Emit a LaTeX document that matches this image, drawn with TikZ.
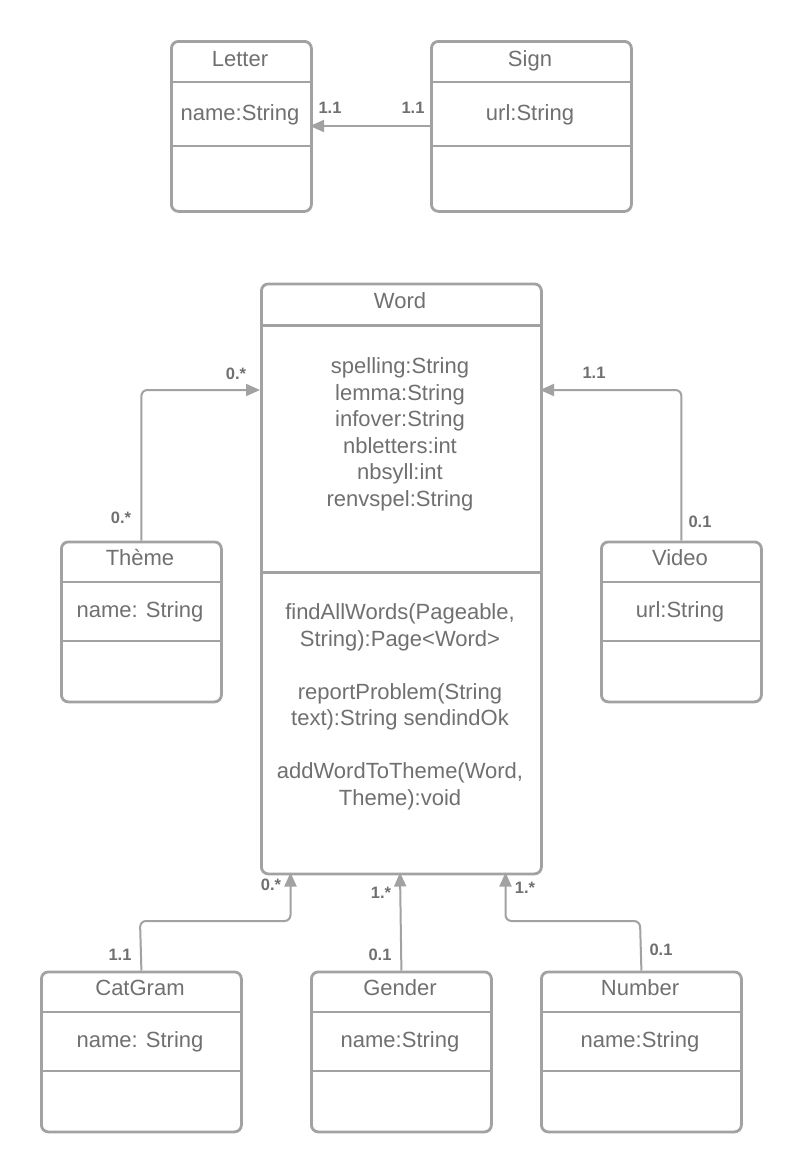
\documentclass[tikz,border=0pt]{standalone}
\usepackage{fontspec}
\setmainfont{Liberation Sans}
\usetikzlibrary{arrows.meta}

\definecolor{lineg}{HTML}{A2A2A2}
\definecolor{textg}{HTML}{707070}

\tikzset{
  classbox/.style={draw=lineg, line width=2.8pt, rounded corners=7pt,
    anchor=north west, inner sep=0pt, fill=white},
  divider/.style={draw=lineg, line width=2.8pt},
  txt/.style={text=textg, font=\fontsize{22}{26.5}\selectfont, anchor=base,
    inner sep=0pt, align=center},
  mult/.style={text=textg, font=\bfseries\fontsize{16.5}{18}\selectfont, anchor=base,
    inner sep=0pt},
  assoc/.style={draw=lineg, line width=2pt, rounded corners=6pt,
    -{Triangle[length=14pt,width=12pt]}},
}

\begin{document}
\begin{tikzpicture}[x=1pt,y=-1pt]
\useasboundingbox (0,0) rectangle (800,1170);
\fill[white] (0,0) rectangle (800,1170);

% ---- class boxes ----
\node[classbox, minimum width=140pt, minimum height=170pt] (letter) at (170,40) {};
\node[classbox, minimum width=200pt, minimum height=170pt] (sign)   at (430,40) {};
\node[classbox, minimum width=280pt, minimum height=590pt] (word)   at (260,282.5) {};
\node[classbox, minimum width=160pt, minimum height=160pt] (theme)  at (60,540.5) {};
\node[classbox, minimum width=160pt, minimum height=160pt] (video)  at (600,540.5) {};
\node[classbox, minimum width=200pt, minimum height=160pt] (catgram) at (40,970.5) {};
\node[classbox, minimum width=180pt, minimum height=160pt] (gender)  at (310,970.5) {};
\node[classbox, minimum width=200pt, minimum height=160pt] (number)  at (540,970.5) {};

% ---- compartment dividers ----
\foreach \b/\ya/\yb in {letter/82/146, sign/82/146, theme/582/641, video/582/641,
                        catgram/1012/1071, gender/1012/1071, number/1012/1071}{
  \draw[divider] (\b.west |- 0,\ya) -- (\b.east |- 0,\ya);
  \draw[divider] (\b.west |- 0,\yb) -- (\b.east |- 0,\yb);
}
\draw[divider] (word.west |- 0,325.5) -- (word.east |- 0,325.5);
\draw[divider] (word.west |- 0,572.5) -- (word.east |- 0,572.5);

% ---- texts (multi-line nodes sit on the baseline of their last line) ----
\node[txt] (tLetter) at (240,66) {Letter};
\node[txt] (aLetter) at (240,120) {name:String};
\node[txt] (tSign) at (530,66) {Sign};
\node[txt] (aSign) at (530,120) {url:String};

\node[txt] (tWord) at (400,308) {Word};
\node[txt] (aWord) at (400,506) {spelling:String\\lemma:String\\infover:String\\nbletters:int\\nbsyll:int\\renvspel:String};
\node[txt] (mWord) at (400,805) {findAllWords(Pageable,\\String):Page<Word>\\[26.5pt]reportProblem(String\\text):String sendindOk\\[26.5pt]addWordToTheme(Word,\\Theme):void};

\node[txt] (tTheme) at (140,565) {Thème};
\node[txt] (aTheme) at (140,617) {name: String};
\node[txt] (tVideo) at (680,565) {Video};
\node[txt] (aVideo) at (680,617) {url:String};

\node[txt] (tCat) at (140,995) {CatGram};
\node[txt] (aCat) at (140,1047) {name: String};
\node[txt] (tGender) at (400,995) {Gender};
\node[txt] (aGender) at (400,1047) {name:String};
\node[txt] (tNumber) at (640,995) {Number};
\node[txt] (aNumber) at (640,1047) {name:String};

% ---- connector end points on the Word box ----
\coordinate (wThemeIn) at (260,390);
\coordinate (wVideoIn) at (540,390);
\coordinate (wCatIn) at (290.5,872.5);
\coordinate (wGenderIn) at (400,872.5);
\coordinate (wNumberIn) at (505.5,872.5);
\coordinate (signOut) at (430,126);
\coordinate (letterIn) at (310,126);

% ---- associations ----
\draw[assoc] (signOut) -- (letterIn);
\draw[assoc] (theme.north) |- (wThemeIn);
\draw[assoc] (video.north) |- (wVideoIn);
\draw[assoc] (catgram.north) -- (140,921) -| (wCatIn);
\draw[assoc] (gender.north) -- (wGenderIn);
\draw[assoc] (number.north) -- (640,921) -| (wNumberIn);

% ---- multiplicities ----
\node[mult] (mLetter) at (330,113) {1.1};
\node[mult] (mSign) at (413,113) {1.1};
\node[mult] (mWordTheme) at (236,379) {0.*};
\node[mult] (mTheme) at (121,523) {0.*};
\node[mult] (mWordVideo) at (594,378) {1.1};
\node[mult] (mVideo) at (700,527) {0.1};
\node[mult] (mWordCat) at (271,890) {0.*};
\node[mult] (mCat) at (120,960) {1.1};
\node[mult] (mWordGender) at (381,898) {1.*};
\node[mult] (mGender) at (380,960) {0.1};
\node[mult] (mWordNumber) at (525,893) {1.*};
\node[mult] (mNumber) at (661,955) {0.1};
\end{tikzpicture}
\end{document}
